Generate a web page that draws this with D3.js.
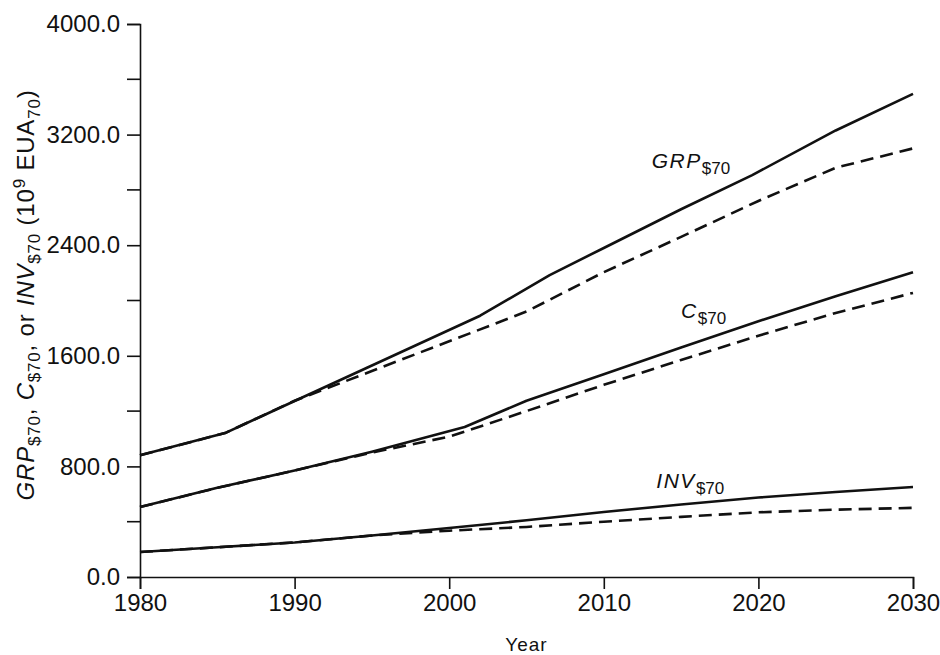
<!DOCTYPE html>
<html>
<head>
<meta charset="utf-8">
<script src="https://cdn.jsdelivr.net/npm/d3@7"></script>
<style>
  body { margin: 0; background: #fff; }
  svg { font-family: "Liberation Sans", Arial, sans-serif; }
</style>
</head>
<body>
<div class="canvas"></div>
<script>
// values (10^9 EUA70)
const grpYears = [1980, 1985.5, 1990, 1995, 2002, 2006.5, 2010, 2015, 2019.6, 2025, 2030];
const grpSolid = [880, 1041, 1273, 1530, 1890, 2184, 2380, 2660, 2907, 3230, 3495];
const grpDashYears = [1980, 1985.5, 1990, 1995, 2000, 2005, 2010, 2015, 2020, 2025, 2030];
const grpDashed = [880, 1041, 1275, 1490, 1705, 1920, 2205, 2460, 2720, 2960, 3100];

const cYears = [1980, 1985, 1990, 1995, 2001, 2005, 2010, 2015, 2020, 2025, 2030];
const cSolid = [506, 645, 770, 906, 1085, 1275, 1466, 1660, 1850, 2030, 2205];
const cDashYears = [1980, 1985, 1990, 1995, 2000, 2005, 2010, 2015, 2020, 2025, 2030];
const cDashed = [506, 645, 770, 900, 1015, 1200, 1390, 1570, 1745, 1910, 2055];

const invYears = [1980, 1985, 1990, 1995, 2000, 2005, 2010, 2015, 2020, 2025, 2030];
const invSolid = [181, 215, 250, 300, 355, 410, 470, 525, 575, 615, 651];
const invDashed = [181, 215, 250, 300, 335, 362, 400, 435, 468, 487, 500];

const xTicks = [1980, 1990, 2000, 2010, 2020, 2030];
const yTicks = [0, 800, 1600, 2400, 3200, 4000];
const yMinor = [400, 1200, 2000, 2800, 3600];

const dims = { width: 940, height: 655 };
const margin = { left: 140, right: 27, top: 24, bottom: 78 };

const svg = d3.select('.canvas').append('svg')
    .attr('width', dims.width)
    .attr('height', dims.height);

const x = d3.scaleLinear().domain([1980, 2030])
    .range([margin.left, dims.width - margin.right]);
const y = d3.scaleLinear().domain([0, 4000])
    .range([dims.height - margin.bottom, margin.top]);

const ink = '#111';

// y axis
const yAxis = svg.append('g')
    .attr('transform', `translate(${margin.left},0)`)
    .call(d3.axisLeft(y).tickValues(yTicks).tickFormat(d3.format('.1f'))
        .tickSize(13).tickPadding(7));
yAxis.append('g').selectAll('line').data(yMinor).enter().append('line')
    .attr('x1', -13).attr('x2', 0)
    .attr('y1', d => y(d)).attr('y2', d => y(d));

// x axis
const xAxis = svg.append('g')
    .attr('transform', `translate(0,${y(0)})`)
    .call(d3.axisBottom(x).tickValues(xTicks).tickFormat(d3.format('d'))
        .tickSize(12).tickPadding(5));

[yAxis, xAxis].forEach(ax => {
    ax.select('.domain').attr('stroke', ink).attr('stroke-width', 1.6);
    ax.selectAll('line').attr('stroke', ink).attr('stroke-width', 1.6);
    ax.selectAll('text').attr('fill', ink).style('font-size', '24px');
});

// lines
const line = d3.line().x(d => x(d[0])).y(d => y(d[1]));
const series = [
    [grpYears, grpSolid, false],
    [grpDashYears, grpDashed, true],
    [cYears, cSolid, false],
    [cDashYears, cDashed, true],
    [invYears, invSolid, false],
    [invYears, invDashed, true]
];
series.forEach(([yrs, vals, dashed]) => {
    svg.append('path')
        .attr('d', line(d3.zip(yrs, vals)))
        .attr('fill', 'none')
        .attr('stroke', ink)
        .attr('stroke-width', 2.6)
        .attr('stroke-linejoin', 'round')
        .attr('stroke-dasharray', dashed ? '13,7' : null);
});

// series labels
const labels = [
    { name: 'GRP', year: 2013.1, val: 2960 },
    { name: 'C', year: 2015.0, val: 1875 },
    { name: 'INV', year: 2013.4, val: 645 }
];
labels.forEach(l => {
    const t = svg.append('text')
        .attr('x', x(l.year)).attr('y', y(l.val))
        .attr('fill', ink).style('font-size', '21px');
    t.append('tspan').style('font-style', 'italic').attr('letter-spacing', 1.5).text(l.name);
    t.append('tspan').attr('dy', 6).style('font-size', '17px').text('$70');
});

// axis titles
svg.append('text')
    .attr('x', x(2005)).attr('y', 651)
    .attr('text-anchor', 'middle')
    .attr('fill', ink).style('font-size', '19px')
    .attr('letter-spacing', 1)
    .text('Year');

const yt = svg.append('text')
    .attr('transform', 'translate(34,295) rotate(-90)')
    .attr('text-anchor', 'middle')
    .attr('letter-spacing', 0.8)
    .attr('fill', ink).style('font-size', '24px');
const parts = [
    ['GRP', 'i'], ['$70', 's'], [', ', 'n'], ['C', 'i'], ['$70', 's'], [', or ', 'n'],
    ['INV', 'i'], ['$70', 's'], [' (10', 'n'], ['9', 'p'], [' EUA', 'n'], ['70', 's'], [')', 'n']
];
let shift = 0;
parts.forEach(([txt, kind]) => {
    const target = kind === 's' ? 6 : kind === 'p' ? -9 : 0;
    const ts = yt.append('tspan').attr('dy', target - shift).text(txt);
    shift = target;
    if (kind === 'i') ts.style('font-style', 'italic');
    if (kind === 's' || kind === 'p') ts.style('font-size', '17px');
});
</script>
</body>
</html>
